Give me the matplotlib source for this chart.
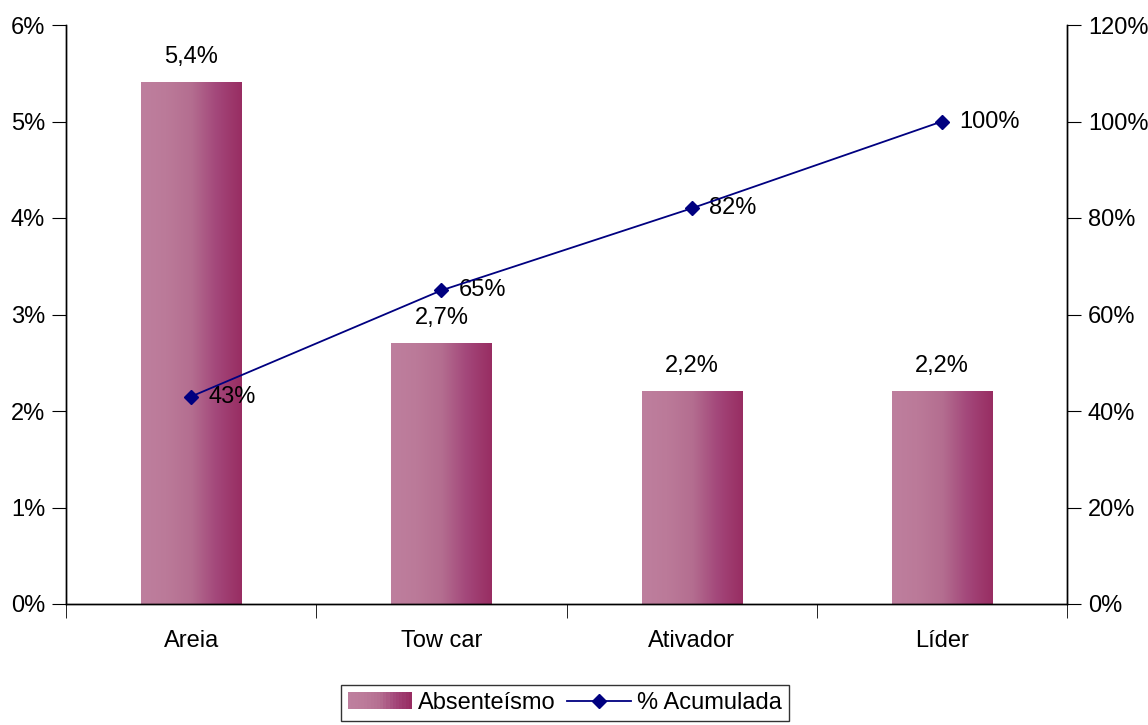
import numpy as np
import matplotlib.pyplot as plt
from matplotlib.colors import LinearSegmentedColormap
from matplotlib.legend_handler import HandlerBase
from matplotlib.patches import Rectangle
from matplotlib.lines import Line2D

plt.rcParams['font.family'] = ['Liberation Sans', 'DejaVu Sans']
FS = 17

categories = ['Areia', 'Tow car', 'Ativador', 'Líder']
absenteismo = [5.4, 2.7, 2.2, 2.2]          # %
acumulada = [43, 65, 82, 100]               # %
bar_labels = ['5,4%', '2,7%', '2,2%', '2,2%']

grad = LinearSegmentedColormap.from_list(
    'bar', ['#be7f9e', '#bb7a99', '#b46e90', '#a3477a', '#982d62'])


class GradientHandler(HandlerBase):
    def create_artists(self, legend, orig, xd, yd, w, h, fontsize, trans):
        n = 20
        arts = []
        for i in range(n):
            r = Rectangle((xd + w * i / n, yd), w / n + 0.3, h,
                          facecolor=grad(i / (n - 1)), edgecolor='none',
                          transform=trans)
            arts.append(r)
        return arts


fig = plt.figure(figsize=(11.48, 7.25), dpi=100)
ax = fig.add_axes([66 / 1148, 1 - 604 / 725, 1001 / 1148, 579 / 725])
ax2 = ax.twinx()

x = np.arange(len(categories))
width = 0.4
gimg = np.linspace(0, 1, 256).reshape(1, -1)
for xi, v, lab in zip(x, absenteismo, bar_labels):
    ax.imshow(gimg, cmap=grad, aspect='auto',
              extent=(xi - width / 2, xi + width / 2, 0, v), zorder=2)
    ax.text(xi, v + 0.15, lab, ha='center', va='bottom', fontsize=FS)

ax.set_xlim(-0.5, 3.5)
ax.set_ylim(0, 6)
ax.set_yticks(range(7))
ax.set_yticklabels([f'{i}%' for i in range(7)], fontsize=FS)
ax.set_xticks(x)
ax.set_xticklabels(categories, fontsize=FS)
ax.set_xticks([-0.5, 0.5, 1.5, 2.5, 3.5], minor=True)
ax.tick_params(axis='x', which='major', length=0, pad=19)
ax.tick_params(axis='x', which='minor', length=10, direction='out')
ax.tick_params(axis='y', length=10, direction='out', pad=5)

ax2.plot(x, acumulada, color='#000080', marker='D', markersize=7,
         linewidth=1.3, zorder=5)
for xi, v in zip(x, acumulada):
    ax2.text(xi + 0.07, v, f'{v}%', ha='left', va='center', fontsize=FS)
ax2.set_ylim(0, 120)
ax2.set_yticks(range(0, 121, 20))
ax2.set_yticklabels([f'{i}%' for i in range(0, 121, 20)], fontsize=FS)
ax2.tick_params(axis='y', length=10, direction='out', pad=5)

for a in (ax, ax2):
    a.spines['top'].set_visible(False)
    for s in ('left', 'right', 'bottom'):
        a.spines[s].set_linewidth(1.0)

bar_handle = Rectangle((0, 0), 1, 1)
line_handle = Line2D([], [], color='#000080', marker='D', markersize=7,
                     linewidth=1.3)
leg = fig.legend([bar_handle, line_handle], ['Absenteísmo', '% Acumulada'],
                 handler_map={Rectangle: GradientHandler()},
                 loc='center', bbox_to_anchor=(565 / 1148, 1 - 703 / 725),
                 ncol=2, fontsize=FS, frameon=True, fancybox=False,
                 edgecolor='black', handlelength=2.7, handletextpad=0.25,
                 columnspacing=0.5, borderpad=0.3)
leg.get_frame().set_linewidth(1.0)

fig.savefig('out.png', dpi=100)
